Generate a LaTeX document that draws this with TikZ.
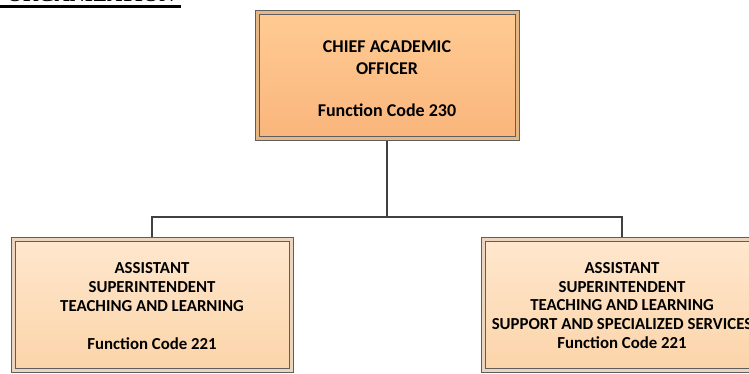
\documentclass[tikz,border=0pt]{standalone}
\usepackage{fontspec}
\newfontfamily\boxfont{Carlito}
\newfontfamily\titlefont{Liberation Serif}
\usetikzlibrary{shadows,backgrounds}
\definecolor{topA}{HTML}{FFCB93}
\definecolor{topB}{HTML}{F9B57C}
\definecolor{botA}{HTML}{FFE7CE}
\definecolor{botB}{HTML}{FBD4A9}
\definecolor{edge}{HTML}{5E5E5E}
\definecolor{conn}{HTML}{404040}
\tikzset{
  orgbox/.style={draw=edge, line width=1pt, double distance=3pt, align=center,
    text=black, inner sep=0pt,
    drop shadow={shadow xshift=2.5pt, shadow yshift=-2.5pt, fill=black!22, opacity=1}},
  ceobox/.style={orgbox, top color=topA, bottom color=topB, double=topA!90!black,
    minimum width=260pt, minimum height=126pt,
    font=\boxfont\bfseries\fontsize{18}{22.3}\selectfont},
  subbox/.style={orgbox, top color=botA, bottom color=botB, double=botA!92!black,
    minimum width=278pt, minimum height=131pt,
    font=\boxfont\bfseries\fontsize{16.8}{18.8}\selectfont},
  connector/.style={draw=conn, line width=2pt}
}
\begin{document}
\begin{tikzpicture}[x=1pt,y=-1pt]
\useasboundingbox (0,0) rectangle (749,374);
\clip (0,0) rectangle (749,374);

\node[anchor=base east, font=\titlefont\bfseries\fontsize{21}{24}\selectfont] (title) at (178,2) {ORGANIZATION};
\fill[black] (0,5) rectangle (181,8);

\node[ceobox] (ceo) at (387,76) {};
\node[font=\boxfont\bfseries\fontsize{18}{22.3}\selectfont, align=center, inner sep=0pt] (ceotext) at (387,78.5) {CHIEF ACADEMIC\\OFFICER\\[19.5pt]Function Code 230};
\node[subbox] (asl) at (152,304.5) {};
\node[font=\boxfont\bfseries\fontsize{16.8}{18.8}\selectfont, align=center, inner sep=0pt] (asltext) at (152,306) {ASSISTANT\\SUPERINTENDENT\\TEACHING AND LEARNING\\[18.8pt]Function Code 221};
\node[subbox] (asr) at (622,304.5) {};
\node[font=\boxfont\bfseries\fontsize{16.8}{18.8}\selectfont, align=center, inner sep=0pt] (asrtext) at (622,305.5) {ASSISTANT\\SUPERINTENDENT\\TEACHING AND LEARNING\\SUPPORT AND SPECIALIZED SERVICES\\Function Code 221};

\coordinate (bus) at (387,217);
\begin{scope}[on background layer]
\fill[white] (0,0) rectangle (749,374);
\draw[connector] (ceo.south) -- (bus);
\draw[connector] (asl.north) |- (bus) -| (asr.north);
\end{scope}
\end{tikzpicture}
\end{document}
